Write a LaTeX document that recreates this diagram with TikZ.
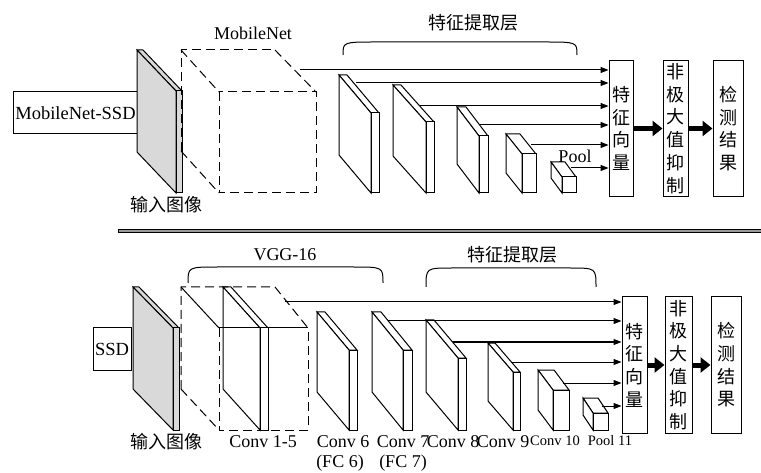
\documentclass[tikz,border=0pt]{standalone}
\usepackage{fontspec}
\setmainfont{Liberation Serif}
\newfontfamily\cjk{Noto Sans CJK SC}
\usetikzlibrary{arrows.meta,positioning}

% one layer of the network: front face, left side and top face
% #1 fill, #2 front-left x, #3 front-top y, #4 width, #5 bottom y, #6 depth x, #7 depth y
\newcommand{\layerbox}[7]{%
  \filldraw[slab, fill=#1] ({#2-#6},{#3-#7}) -- ({#2+#4-#6},{#3-#7}) -- ({#2+#4},#3) -- (#2,#3) -- cycle;
  \filldraw[slab, fill=#1] ({#2-#6},{#3-#7}) -- (#2,#3) -- (#2,#5) -- ({#2-#6},{#5-#7}) -- cycle;
  \filldraw[slab, fill=#1] (#2,#3) rectangle ({#2+#4},#5);
}

\begin{document}
\begin{tikzpicture}[
  x=1pt, y=-1pt,
  slab/.style={draw=black, line width=1pt, line join=miter},
  hidden/.style={line width=1pt, dashed, dash pattern=on 9pt off 5pt},
  txt/.style={font=\fontsize{18}{20}\selectfont, inner sep=0pt},
  smalltxt/.style={font=\fontsize{14.5}{16}\selectfont, inner sep=0pt},
  hantxt/.style={font=\cjk\fontsize{18}{20}\selectfont, inner sep=0pt},
  namebox/.style={rectangle, draw, line width=1pt, minimum height=42pt,
                  inner sep=1pt, font=\fontsize{18.5}{20}\selectfont},
  vbox/.style={rectangle, draw, line width=1pt, minimum height=136pt,
               inner sep=0pt, align=center, font=\cjk\fontsize{18}{22.7}\selectfont},
  feat/.style={-{Triangle[length=8pt,width=6pt]}, line width=1pt},
  bigarr/.style={-{Triangle[length=10pt,width=15pt]}, line width=5pt},
  brace/.style={line width=1pt},
]
\useasboundingbox (0,0) rectangle (761,473);

% ================= MobileNet-SSD
\node[namebox, minimum width=125pt] (mssd) at (75.5,113) {MobileNet-SSD};
\layerbox{black!15}{176}{91}{6}{193}{39}{41}

% dashed MobileNet block
\draw[hidden] (219,92) rectangle (316,193);
\draw[hidden] (181,151) -- (181,50) -- (275,50);
\draw[hidden] (181,50) -- (219,92);
\draw[hidden] (275,50) -- (316,92);
\draw[hidden] (181,151) -- (219,193);
\node[txt] (mnet) at (253,33) {MobileNet};

\layerbox{white}{371}{113}{8}{193}{32}{38}
\layerbox{white}{426}{122}{8}{193}{33}{37}
\layerbox{white}{479}{136}{9}{193}{22}{29}
\layerbox{white}{522}{154}{14}{193}{16}{20}
\layerbox{white}{562}{177}{14}{193}{11}{15}

\node[hantxt] (in1) at (166,205) {输入图像};
\node[txt] (pool1) at (575,156) {Pool};

\draw[brace] (343,55) .. controls (343,42) .. (376,42) -- (544,42) .. controls (577,42) .. (577,55);
\node[hantxt] (ext1) at (473,23) {特征提取层};

\node[vbox, minimum width=24pt] (fv1)  at (621,128.5)   {特\\征\\向\\量};
\node[vbox, minimum width=25pt] (nms1) at (675.5,128.5) {非\\极\\大\\值\\抑\\制};
\node[vbox, minimum width=30pt] (res1) at (728,128.5)   {检\\测\\结\\果};

\coordinate (m1) at (300,70);
\coordinate (m2) at (356,83);
\coordinate (m3) at (420,106);
\coordinate (m4) at (480,125);
\coordinate (m5) at (531,145);
\coordinate (m6) at (571,168);
\draw[feat] (m1) -- (m1 -| fv1.west);
\draw[feat] (m2) -- (m2 -| fv1.west);
\draw[feat] (m3) -- (m3 -| fv1.west);
\draw[feat] (m4) -- (m4 -| fv1.west);
\draw[feat] (m5) -- (m5 -| fv1.west);
\draw[feat] (m6) -- (m6 -| fv1.west);
\draw[bigarr] (fv1.east) -- (nms1.west);
\draw[bigarr] (nms1.east) -- (res1.west);

% ================= separator
\filldraw[fill=black!40, line width=0.8pt] (118,229) rectangle (763,232);

% ================= SSD
\node[namebox, minimum width=38pt] (ssd) at (112,349) {SSD};
\layerbox{black!15}{173}{328}{6}{430}{40}{41}
\layerbox{white}{260}{328}{8}{430}{37}{41}

% dashed VGG-16 block
\draw[hidden] (219,328) -- (219,430) -- (308,430) -- (308,328);
\draw[line width=1pt] (219,328) -- (308,328);
\draw[line width=1pt] (181,287) -- (219,328);
\draw[hidden] (181,389) -- (181,287) -- (275,287) -- (308,328);
\draw[hidden] (181,389) -- (219,430);

\layerbox{white}{349}{350}{8}{430}{32}{38}
\layerbox{white}{403}{350}{9}{430}{31}{38}
\layerbox{white}{458}{358}{8}{430}{32}{38}
\layerbox{white}{513}{372}{7}{430}{25}{29}
\layerbox{white}{553}{390}{16}{430}{15}{20}
\layerbox{white}{593}{413}{15}{430}{10}{15}

\draw[brace] (188,283) .. controls (188,267) .. (218,267) -- (353,267) .. controls (383,267) .. (383,283);
\node[txt] (vgg) at (285,255) {VGG-16};
\draw[brace] (426,287) .. controls (426,268) .. (452,268) -- (570,268) .. controls (596,268) .. (596,287);
\node[hantxt] (ext2) at (512,255) {特征提取层};

\node[hantxt] (in2) at (166,442) {输入图像};
\node[txt] (c15) at (263,442) {Conv 1-5};
\node[txt] (c6)  at (343,442) {Conv 6};
\node[txt] (fc6) at (340,463) {(FC 6)};
\node[txt] (c7)  at (403,442) {Conv 7};
\node[txt] (fc7) at (403,463) {(FC 7)};
\node[txt] (c8)  at (453,442) {Conv 8};
\node[txt] (c9)  at (503,442) {Conv 9};
\node[smalltxt] (c10) at (555,441) {Conv 10};
\node[smalltxt] (p11) at (610,441) {Pool 11};

\node[vbox, minimum width=25pt] (fv2)  at (634.5,365) {特\\征\\向\\量};
\node[vbox, minimum width=27pt] (nms2) at (678.5,365) {非\\极\\大\\值\\抑\\制};
\node[vbox, minimum width=30pt] (res2) at (726,365)   {检\\测\\结\\果};

\coordinate (v1) at (285,302);
\coordinate (v2) at (388,321);
\coordinate (v3) at (453,342);
\coordinate (v4) at (511,362);
\coordinate (v5) at (563,383);
\coordinate (v6) at (602,406);
\draw[feat] (v1) -- (v1 -| fv2.west);
\draw[feat] (v2) -- (v2 -| fv2.west);
\draw[feat] (v3) -- (v3 -| fv2.west);
\draw[feat] (v4) -- (v4 -| fv2.west);
\draw[feat] (v5) -- (v5 -| fv2.west);
\draw[feat] (v6) -- (v6 -| fv2.west);
\draw[bigarr] (fv2.east) -- (nms2.west);
\draw[bigarr] (nms2.east) -- (res2.west);
\end{tikzpicture}
\end{document}
